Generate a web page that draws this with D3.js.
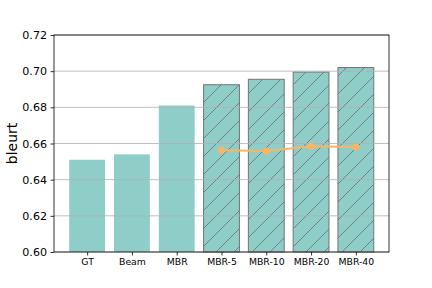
<!DOCTYPE html>
<html>
<head>
<meta charset="utf-8">
<script src="https://cdn.jsdelivr.net/npm/d3@7"></script>
<style>
  body { margin: 0; background: #fff; }
  svg { font-family: "DejaVu Sans", sans-serif; }
</style>
</head>
<body>
<div id="chart-area"></div>
<script>
// values
var categories = ["GT", "Beam", "MBR", "MBR-5", "MBR-10", "MBR-20", "MBR-40"];
var barValues = [0.651, 0.654, 0.681, 0.6925, 0.6955, 0.6995, 0.702];
var hatched = [false, false, false, true, true, true, true];
var lineCategories = ["MBR-5", "MBR-10", "MBR-20", "MBR-40"];
var lineValues = [0.6562, 0.6558, 0.6585, 0.658];
var yTicks = [0.60, 0.62, 0.64, 0.66, 0.68, 0.70, 0.72];

var width = 432, height = 288;
// plot box (note: "top" is a reserved window property, so use other names)
var plotLeft = 54, plotRight = 389, plotTop = 35, plotBottom = 252;

var svg = d3.select("#chart-area").append("svg")
    .attr("width", width)
    .attr("height", height);

// hatch pattern for the MBR-n bars
var defs = svg.append("defs");
var pat = defs.append("pattern")
    .attr("id", "hatch")
    .attr("patternUnits", "userSpaceOnUse")
    .attr("width", 18)
    .attr("height", 18);
pat.append("rect").attr("width", 18).attr("height", 18).attr("fill", "#8ecdc8");
pat.append("path")
    .attr("d", "M-2,20 L20,-2 M-2,2 L2,-2 M16,20 L20,16")
    .attr("stroke", "#66716f")
    .attr("stroke-width", 0.8);

var x = d3.scaleLinear()
    .domain([-0.74, categories.length - 1 + 0.74])
    .range([plotLeft, plotRight]);
var y = d3.scaleLinear()
    .domain([0.60, 0.72])
    .range([plotBottom, plotTop]);
var barW = x(0.8) - x(0);

// bars
svg.selectAll("rect.bar")
    .data(barValues)
    .enter()
    .append("rect")
        .attr("class", "bar")
        .attr("x", function(d, i){ return x(i) - barW / 2; })
        .attr("y", function(d){ return y(d); })
        .attr("width", barW)
        .attr("height", function(d){ return y(0.60) - y(d); })
        .attr("fill", function(d, i){ return hatched[i] ? "url(#hatch)" : "#8ecdc8"; })
        .attr("stroke", function(d, i){ return hatched[i] ? "#747474" : "none"; })
        .attr("stroke-width", 1);

// grid lines drawn over the bars
svg.selectAll("line.grid")
    .data(yTicks)
    .enter()
    .append("line")
        .attr("class", "grid")
        .attr("x1", plotLeft)
        .attr("x2", plotRight)
        .attr("y1", function(d){ return y(d); })
        .attr("y2", function(d){ return y(d); })
        .attr("stroke", "#b0b0b0")
        .attr("stroke-width", 0.8);

// orange line
var line = d3.line()
    .x(function(d, i){ return x(categories.indexOf(lineCategories[i])); })
    .y(function(d){ return y(d); });
svg.append("path")
    .datum(lineValues)
    .attr("d", line)
    .attr("fill", "none")
    .attr("stroke", "#fdb462")
    .attr("stroke-width", 2);
svg.selectAll("circle.pt")
    .data(lineValues)
    .enter()
    .append("circle")
        .attr("class", "pt")
        .attr("cx", function(d, i){ return x(categories.indexOf(lineCategories[i])); })
        .attr("cy", function(d){ return y(d); })
        .attr("r", 3.5)
        .attr("fill", "#fdb462");

// axes
var xAxis = d3.axisBottom(x)
    .tickValues(d3.range(categories.length))
    .tickFormat(function(i){ return categories[i]; })
    .tickSize(3.5)
    .tickPadding(3);
var gx = svg.append("g")
    .attr("transform", "translate(0," + plotBottom + ")")
    .call(xAxis);
gx.select(".domain").remove();
gx.selectAll("text").attr("font-size", 9.3).attr("fill", "#000").attr("font-family", "DejaVu Sans");
gx.selectAll("line").attr("stroke", "#000").attr("stroke-width", 0.8);

var yAxis = d3.axisLeft(y)
    .tickValues(yTicks)
    .tickFormat(d3.format(".2f"))
    .tickSize(3.5)
    .tickPadding(3.5);
var gy = svg.append("g")
    .attr("transform", "translate(" + plotLeft + ",0)")
    .call(yAxis);
gy.select(".domain").remove();
gy.selectAll("text").attr("font-size", 11.1).attr("fill", "#000").attr("font-family", "DejaVu Sans");
gy.selectAll("line").attr("stroke", "#000").attr("stroke-width", 0.8);

// frame
svg.append("rect")
    .attr("x", plotLeft)
    .attr("y", plotTop)
    .attr("width", plotRight - plotLeft)
    .attr("height", plotBottom - plotTop)
    .attr("fill", "none")
    .attr("stroke", "#000")
    .attr("stroke-width", 0.8);

svg.append("text")
    .attr("transform", "translate(16.5," + ((plotTop + plotBottom) / 2) + ") rotate(-90)")
    .attr("text-anchor", "middle")
    .attr("font-size", 14)
    .text("bleurt");
</script>
</body>
</html>
